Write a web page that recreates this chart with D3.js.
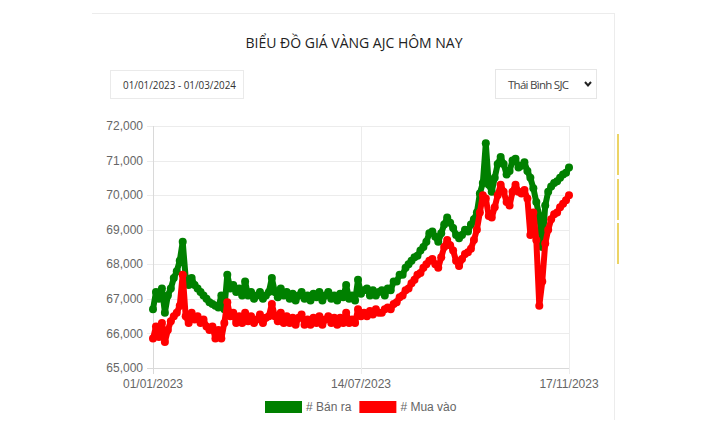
<!DOCTYPE html>
<html>
<head>
<meta charset="utf-8">
<script src="https://cdn.jsdelivr.net/npm/d3@7"></script>
<style>
  body { margin: 0; background: #fff; }
  svg { display: block; }
</style>
</head>
<body>
<div id="chart"></div>
<script>
'use strict';

// x tick labels (first, middle, last category)
var tickLabels = ['01/01/2023', '14/07/2023', '17/11/2023'];

// # Bán ra (sell)
var banRa = [
	66700, 67200, 67000, 67300, 66600, 67100, 67300, 67600, 67800, 68100,
	68650, 67600, 67400, 67600, 67400, 67300, 67200, 67100, 67000, 66900,
	66850, 66800, 66750, 67100, 66700, 67700, 67300, 67400, 67200, 67300,
	67100, 67500, 67100, 67200, 67000, 67100, 67200, 67000, 67100, 67200,
	67600, 67200, 67050, 67300, 67100, 67200, 67000, 67150, 66950, 67100,
	67200, 67000, 67100, 66950, 67150, 67050, 67200, 66950, 67100, 67200,
	67000, 67100, 66950, 67150, 67050, 67400, 67000, 67100, 66950, 67550,
	67150, 67250, 67300, 67100, 67250, 67100, 67200, 67250, 67100, 67300,
	67250, 67500, 67500, 67700, 67700, 67900, 68000, 68100, 68200, 68250,
	68400, 68500, 68650, 68900, 68950, 68800, 68650, 68900, 69150, 69350,
	69200, 69050, 68850, 68750, 68850, 69000, 68950, 69150, 69300, 69500,
	70050, 70350, 71500, 70300, 70100, 70500, 70900, 71100, 70900, 70600,
	70700, 71000, 71050, 70800, 70850, 70950, 70700, 70500, 70200, 69800,
	69400, 68500, 69700, 70100, 70250, 70350, 70400, 70500, 70600, 70650,
	70800
];

// # Mua vào (buy)
var muaVao = [
	65850, 66200, 65900, 66300, 65750, 66100, 66350, 66500, 66600, 66800,
	67700, 66500, 66300, 66600, 66400, 66500, 66300, 66400, 66200, 66100,
	66200, 65850, 66100, 65850, 66300, 66900, 66500, 66600, 66300, 66500,
	66300, 66600, 66350, 66500, 66300, 66400, 66550, 66300, 66450, 66500,
	66850, 66500, 66350, 66600, 66300, 66500, 66300, 66450, 66250, 66450,
	66550, 66250, 66400, 66250, 66450, 66300, 66500, 66250, 66400, 66500,
	66300, 66450, 66250, 66450, 66300, 66600, 66300, 66400, 66300, 66700,
	66500, 66600, 66500, 66650, 66550, 66700, 66600, 66600, 66700, 66750,
	66700, 66850, 66900, 67050, 67100, 67250, 67300, 67450, 67550, 67700,
	67750, 67900, 68000, 68100, 68150, 68000, 67900, 68200, 68500, 68700,
	68550, 68400, 68100, 67950, 68150, 68300, 68350, 68450, 68700, 69000,
	69500, 70000, 69900, 69400, 69350, 69650, 70000, 70300, 70100, 69800,
	69700, 70100, 70300, 70100, 70050, 70150, 69900, 68850, 69500, 68700,
	66800, 67500, 68600, 69000, 69300, 69450, 69500, 69650, 69750, 69850,
	70000
];

var yTicks = [65000, 66000, 67000, 68000, 69000, 70000, 71000, 72000];

var W = 712, H = 442;
var margin = {left: 153, right: 143, top: 126, bottom: 74};
var width = W - margin.left - margin.right;
var height = H - margin.top - margin.bottom;

var svg = d3.select('#chart').append('svg')
	.attr('width', W)
	.attr('height', H);

svg.append('rect').attr('width', W).attr('height', H).attr('fill', '#fff');

// card borders
svg.append('line')
	.attr('x1', 92).attr('x2', 615).attr('y1', 13.5).attr('y2', 13.5)
	.attr('stroke', '#ececec');
svg.append('line')
	.attr('x1', 614.5).attr('x2', 614.5).attr('y1', 13).attr('y2', 420)
	.attr('stroke', '#ececec');

// yellow marks at the side
[[134, 175], [179, 220], [223, 264]].forEach(function(s) {
	svg.append('rect')
		.attr('x', 617).attr('y', s[0])
		.attr('width', 2).attr('height', s[1] - s[0])
		.attr('fill', '#ecd466');
});

svg.append('text')
	.attr('x', 354)
	.attr('y', 48)
	.attr('text-anchor', 'middle')
	.style('font-family', '"Open Sans", sans-serif')
	.style('font-size', '14px')
	.attr('textLength', 217)
	.attr('fill', '#222')
	.text('BIỂU ĐỒ GIÁ VÀNG AJC HÔM NAY');

// date range box
svg.append('rect')
	.attr('x', 110.5).attr('y', 70.5).attr('width', 133).attr('height', 28)
	.attr('fill', '#fff').attr('stroke', '#eaeaea');
svg.append('text')
	.attr('x', 123).attr('y', 89)
	.style('font-family', '"Open Sans", sans-serif')
	.style('font-size', '11px')
	.attr('textLength', 113)
	.attr('lengthAdjust', 'spacingAndGlyphs')
	.attr('fill', '#333')
	.text('01/01/2023 - 01/03/2024');

// select box
svg.append('rect')
	.attr('x', 495.5).attr('y', 69.5).attr('width', 101).attr('height', 29)
	.attr('fill', '#fff').attr('stroke', '#e6e6e6');
svg.append('text')
	.attr('x', 508).attr('y', 89)
	.style('font-family', '"Open Sans", sans-serif')
	.style('font-size', '11.5px')
	.attr('textLength', 61)
	.attr('fill', '#444')
	.text('Thái Bình SJC');
svg.append('path')
	.attr('d', 'M585,82 L588,85.5 L591,82')
	.attr('fill', 'none').attr('stroke', '#222').attr('stroke-width', 2);

var g = svg.append('g')
	.attr('transform', 'translate(' + margin.left + ',' + margin.top + ')');

var n = banRa.length;
var xscale = d3.scaleLinear().domain([0, n - 1]).range([0, width]);
var yscale = d3.scaleLinear().domain([65000, 72000]).range([height, 0]);
var tickIdx = [0, (n - 1) / 2, n - 1];

// grid
g.append('g')
	.selectAll('line')
	.data(yTicks)
	.enter().append('line')
	.attr('x1', -6).attr('x2', width)
	.attr('y1', function(d) { return Math.round(yscale(d)) + 0.5; })
	.attr('y2', function(d) { return Math.round(yscale(d)) + 0.5; })
	.attr('stroke', function(d) { return d === 65000 ? '#d9d9d9' : '#ececec'; });

g.append('g')
	.selectAll('line')
	.data(tickIdx)
	.enter().append('line')
	.attr('x1', function(d) { return Math.round(xscale(d)) + 0.5; })
	.attr('x2', function(d) { return Math.round(xscale(d)) + 0.5; })
	.attr('y1', 0).attr('y2', height + 6)
	.attr('stroke', function(d) { return d === 0 ? '#d9d9d9' : '#ececec'; });

var fmt = d3.format(',');

g.append('g')
	.selectAll('text')
	.data(yTicks)
	.enter().append('text')
	.attr('x', -10)
	.attr('y', function(d) { return yscale(d); })
	.attr('dy', '0.35em')
	.attr('text-anchor', 'end')
	.style('font-family', 'Arial, "Liberation Sans", sans-serif')
	.style('font-size', '12px')
	.attr('fill', '#666')
	.text(function(d) { return fmt(d); });

g.append('g')
	.selectAll('text')
	.data(tickIdx)
	.enter().append('text')
	.attr('x', function(d) { return xscale(d); })
	.attr('y', height + 20)
	.attr('text-anchor', 'middle')
	.style('font-family', 'Arial, "Liberation Sans", sans-serif')
	.style('font-size', '12px')
	.attr('fill', '#666')
	.text(function(d, i) { return tickLabels[i]; });

var line = d3.line()
	.x(function(d, i) { return xscale(i); })
	.y(function(d) { return yscale(d); });

var series = [
	{name: '# Bán ra', values: banRa, color: '#008000'},
	{name: '# Mua vào', values: muaVao, color: '#ff0000'}
];

series.forEach(function(s) {
	var sg = g.append('g');
	sg.append('path')
		.attr('d', line(s.values))
		.attr('fill', 'none')
		.attr('stroke', s.color)
		.attr('stroke-width', 6)
		.attr('stroke-linejoin', 'round');
	sg.selectAll('circle')
		.data(s.values)
		.enter().append('circle')
		.attr('cx', function(d, i) { return xscale(i); })
		.attr('cy', function(d) { return yscale(d); })
		.attr('r', 4)
		.attr('fill', s.color);
});

// legend
var legend = svg.append('g').attr('transform', 'translate(265,401)');
var lx = 0;
series.forEach(function(s) {
	legend.append('rect')
		.attr('x', lx).attr('y', 0)
		.attr('width', 37).attr('height', 12)
		.attr('fill', s.color);
	var t = legend.append('text')
		.attr('x', lx + 41).attr('y', 10)
		.style('font-family', 'Arial, "Liberation Sans", sans-serif')
		.style('font-size', '12px')
		.attr('fill', '#666')
		.text(s.name);
	lx += 41 + t.node().getComputedTextLength() + 8;
});
</script>
</body>
</html>
